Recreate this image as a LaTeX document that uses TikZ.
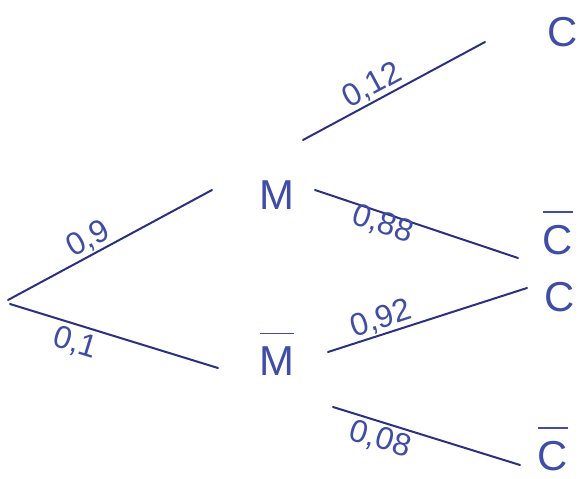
\documentclass[tikz,border=0pt]{standalone}
\usepackage{fontspec}
\setmainfont{Liberation Sans}
\usetikzlibrary{positioning}
\definecolor{ink}{HTML}{2B3080}
\definecolor{pen}{HTML}{3F4DA6}
\newcommand{\barred}[1]{\setbox0\hbox{#1}\vbox{\hrule height 1.5pt width \wd0 \vskip 12pt \box0}}

\begin{document}
\begin{tikzpicture}[x=1bp, y=-1bp,
  event/.style={text=pen, font=\fontsize{42}{42}\selectfont, inner sep=0pt, anchor=base},
  prob/.style={text=pen, font=\fontsize{32}{32}\selectfont, sloped, inner sep=1pt},
  branch/.style={draw=ink, line width=2pt, line cap=round}]
  \useasboundingbox (0,0) rectangle (581,479);
  % events
  \coordinate (root) at (8,300);
  \node[event] (m) at (277,210) {M};
  \node[event] (mbar) at (277,375) {\barred{M}};
  \node[event] (c1) at (563,47) {C};
  \node[event] (c1bar) at (558,254) {\barred{C}};
  \node[event] (c2) at (560,311) {C};
  \node[event] (c2bar) at (553,470) {\barred{C}};
  % branch ends
  \coordinate (m-in) at (212,190);
  \coordinate (mbar-in) at (218,368);
  \coordinate (m-up) at (303,140);
  \coordinate (m-dn) at (315,190);
  \coordinate (mbar-up) at (328,352);
  \coordinate (mbar-dn) at (333,407);
  \coordinate (c1-in) at (485,42);
  \coordinate (c1bar-in) at (518,258);
  \coordinate (c2-in) at (527,288);
  \coordinate (c2bar-in) at (520,465);
  % first level
  \draw[branch] (root) -- node[prob, above, pos=0.43]{0,9} (m-in);
  \draw[branch] (root) ++(2,4) -- node[prob, below=3pt, pos=0.34]{0,1} (mbar-in);
  % second level
  \draw[branch] (m-up) -- node[prob, above, pos=0.42]{0,12} (c1-in);
  \draw[branch] (m-dn) -- node[prob, below=-4pt, pos=0.35]{0,88} (c1bar-in);
  \draw[branch] (mbar-up) -- node[prob, above, pos=0.29]{0,92} (c2-in);
  \draw[branch] (mbar-dn) -- node[prob, below=2pt, pos=0.28]{0,08} (c2bar-in);
\end{tikzpicture}
\end{document}
